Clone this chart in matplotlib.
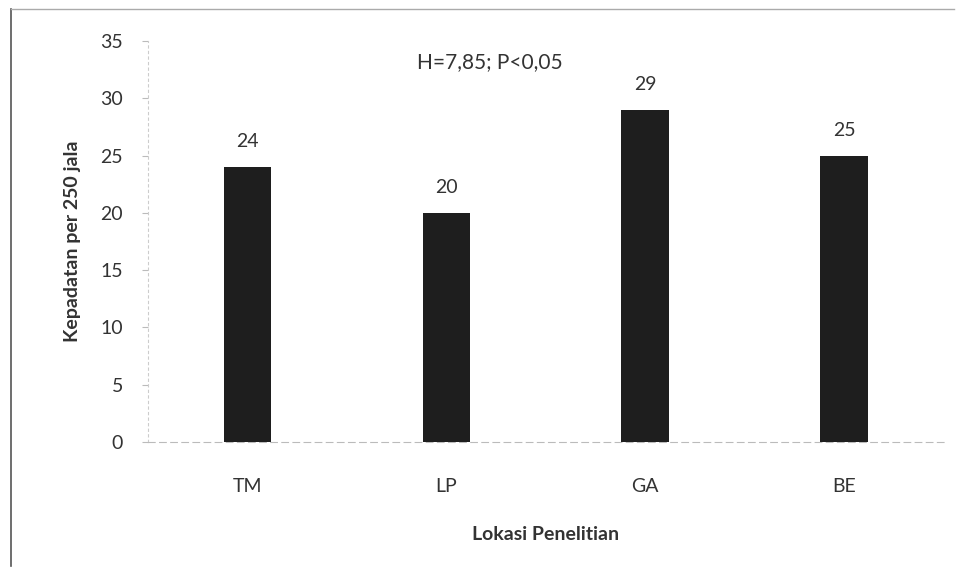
import matplotlib
matplotlib.use("Agg")
import matplotlib.pyplot as plt

categories = ["TM", "LP", "GA", "BE"]
values = [24, 20, 29, 25]
yticks = [0, 5, 10, 15, 20, 25, 30, 35]

plt.rcParams['font.family'] = ['Lato', 'DejaVu Sans']

fig = plt.figure(figsize=(9.64, 5.78), dpi=100)
ax = fig.add_axes([0.1535, 0.2353, 0.8255, 0.6937])

x = list(range(len(categories)))
bars = ax.bar(x, values, width=0.24, color="#1e1e1e", zorder=3)
for xi, v in zip(x, values):
    ax.annotate(f"{v}", (xi, v), xytext=(0, 12), textcoords="offset points",
                ha="center", va="bottom", fontsize=14, color="#333333")

ax.set_xlim(-0.5, 3.5)
ax.set_ylim(0, 35)
ax.set_yticks(yticks)
ax.set_xticks(x)
ax.set_xticklabels(categories)
ax.tick_params(axis="y", length=4, color="#bbbbbb", labelsize=14, labelcolor="#333333", pad=14)
ax.tick_params(axis="x", length=0, labelsize=14, labelcolor="#333333", pad=26)

for s in ["top", "right"]:
    ax.spines[s].set_visible(False)
ax.spines["left"].set_color("#cccccc")
ax.spines["left"].set_linestyle((0, (2, 3)))
ax.spines["bottom"].set_color("#bbbbbb")
ax.spines["bottom"].set_linestyle((0, (6, 4)))

ax.set_ylabel("Kepadatan per 250 jala", fontsize=14, fontweight="bold", color="#333333", labelpad=14)
ax.set_xlabel("Lokasi Penelitian", fontsize=14, fontweight="bold", color="#333333", labelpad=22)

fig.text(0.508, 0.893, "H=7,85; P<0,05", ha="center", va="center", fontsize=15, color="#333333")

# figure frame (scan border)
fig.add_artist(plt.Line2D([0.011, 0.011], [0.02, 0.985], color="#555555", lw=1.2, transform=fig.transFigure))
fig.add_artist(plt.Line2D([0.011, 0.99], [0.985, 0.985], color="#aaaaaa", lw=1.0, transform=fig.transFigure))

fig.savefig("out.png", dpi=100)
